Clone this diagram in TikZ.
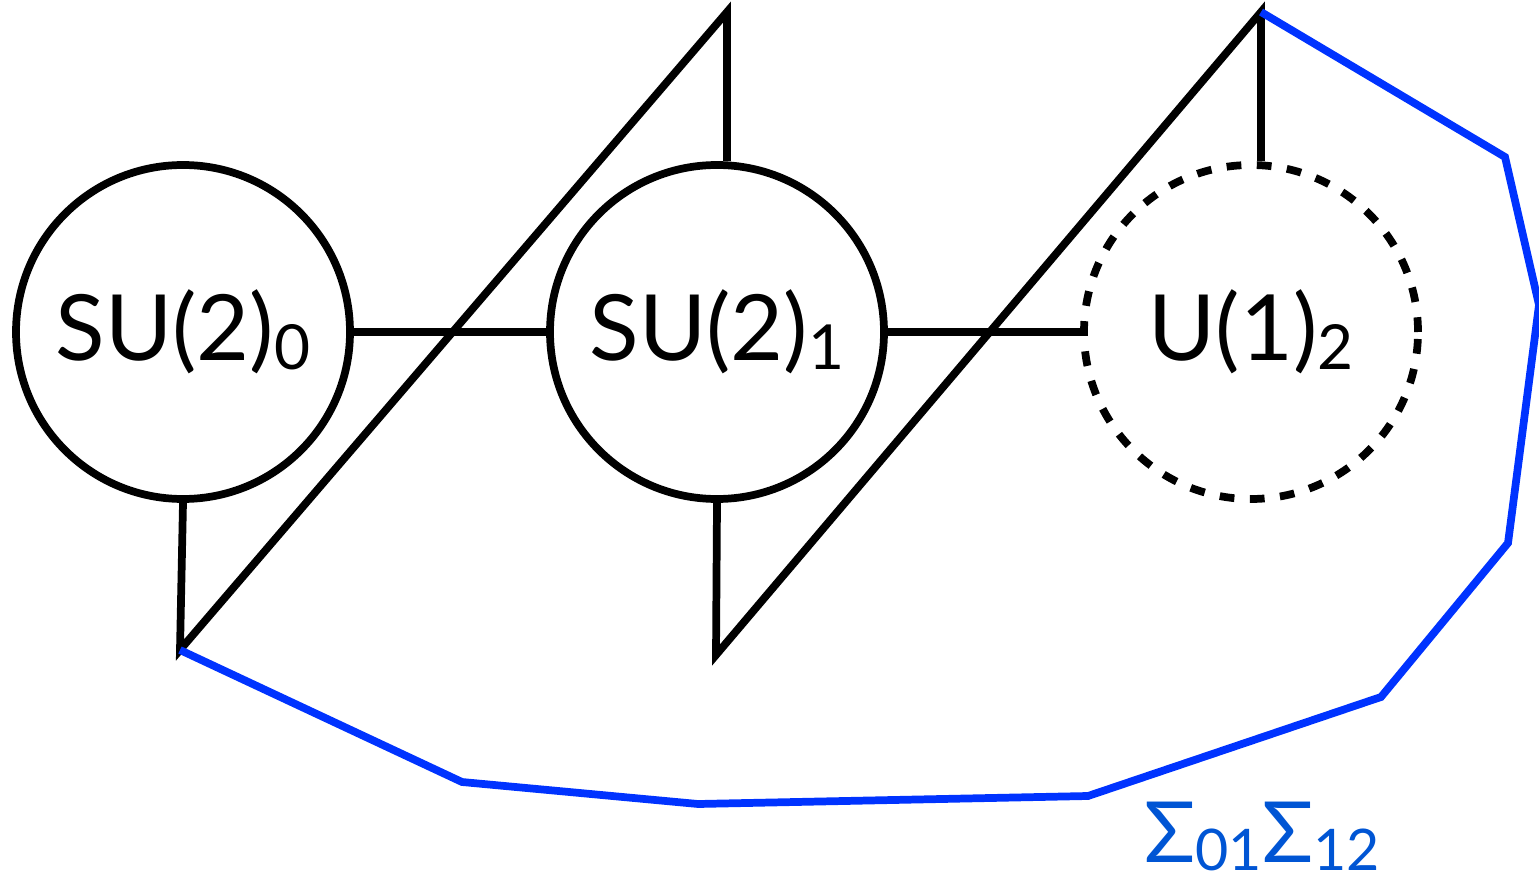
\documentclass[tikz,border=0pt]{standalone}
\usepackage{fontspec}
\setmainfont{Lato}
\usetikzlibrary{positioning}
\definecolor{wallblue}{RGB}{0,51,255}
\definecolor{labelblue}{RGB}{0,85,212}
\newcommand{\lowidx}[1]{\raisebox{-0.1em}{\scalebox{0.68}{#1}}}
\tikzset{
  gauge/.style={circle,draw,line width=2.2pt,minimum size=3.34cm,inner sep=0pt,
    font=\fontsize{26}{26}\selectfont},
  flavour/.style={gauge,dash pattern=on 4.2pt off 4.4pt},
  link/.style={line width=2.2pt},
  wall/.style={line width=2.2pt,wallblue}
}
\begin{document}
\begin{tikzpicture}
  \useasboundingbox (0,0) rectangle (15.39,8.83);
  % gauge nodes
  \node[gauge] (g0) at (1.83,5.51) {SU(2)\lowidx{0}};
  \node[gauge] (g1) at (7.17,5.51) {SU(2)\lowidx{1}};
  \node[flavour] (g2) at (12.51,5.51) {U(1)\lowidx{2}};
  % end points of the legs
  \coordinate (t1) at (7.27,8.71);
  \coordinate (t2) at (12.61,8.71);
  \coordinate (b0) at (1.80,2.33);
  \coordinate (b1) at (7.16,2.28);
  % links
  \draw[link] (g0) -- (g1);
  \draw[link] (g1) -- (g2);
  \draw[link] (g0.south) -- (b0) -- (t1) -- (t1 |- g1.north);
  \draw[link] (g1.south) -- (b1) -- (t2) -- (t2 |- g2.north);
  % blue wall
  \draw[wall] (t2) -- (15.05,7.26) -- (15.39,5.78) -- (15.08,3.40) -- (13.81,1.86)
    -- (10.88,0.87) -- (6.98,0.79) -- (4.62,1.01) -- (b0);
  \node[text=labelblue,font=\fontsize{24}{24}\selectfont,anchor=base,inner sep=0pt]
    (lab) at (12.62,0.21) {Σ\lowidx{01}Σ\lowidx{12}};
\end{tikzpicture}
\end{document}
